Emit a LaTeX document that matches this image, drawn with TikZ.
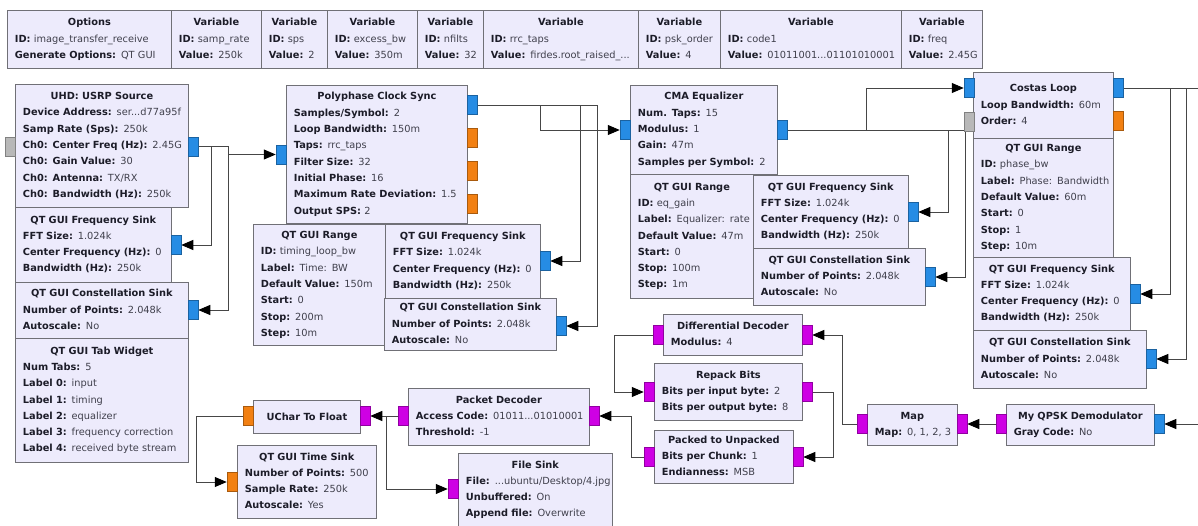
\documentclass[tikz,border=0pt]{standalone}
\usepackage{fontspec}
\setmainfont{DejaVu Sans}
\usetikzlibrary{arrows.meta,calc}
\pgfdeclarelayer{bg}
\pgfdeclarelayer{wires}
\pgfsetlayers{bg,wires,main}

\definecolor{blkfill}{RGB}{237,235,252}
\definecolor{blkline}{RGB}{112,112,118}
\definecolor{keytext}{RGB}{28,28,40}
\definecolor{valtext}{RGB}{64,64,76}
\definecolor{pcomplex}{RGB}{38,140,228}
\definecolor{pfloat}{RGB}{242,128,18}
\definecolor{pbyte}{RGB}{206,0,228}
\definecolor{pmsg}{RGB}{184,184,184}
\definecolor{wire}{RGB}{70,70,70}

% block header (centred) and parameter line (bold key, plain value)
\newcommand\hd[1]{\hfill\mbox{\textbf{#1}}\hfill\null}
\newcommand\kv[2]{\mbox{\textbf{#1:} \color{valtext}#2}}

\tikzset{
  blk/.style={rectangle, draw=blkline, fill=blkfill, line width=0.8pt, inner sep=0pt},
  blktext/.style={anchor=center, inner sep=0pt, align=left, text=keytext,
                  font=\fontsize{9.8}{16.3}\selectfont},
  port/.style={rectangle, inner sep=0pt, minimum width=10pt, minimum height=19pt, line width=0.5pt},
  pc/.style={port, fill=pcomplex, draw=pcomplex!70!black},
  pf/.style={port, fill=pfloat, draw=pfloat!70!black},
  pb/.style={port, fill=pbyte, draw=pbyte!70!black},
  pm/.style={port, fill=pmsg, draw=pmsg!70!black},
  conn/.style={draw=wire, line width=0.9pt, -{Triangle[length=12pt,width=10pt,color=black]}},
  link/.style={draw=wire, line width=0.9pt},
}

% \grblock{name}{x0}{y0}{x1}{y1}{lines}
\newcommand\grblock[6]{%
  \pgfmathsetmacro\grw{#4-#2}%
  \pgfmathsetmacro\grh{#5-#3}%
  \pgfmathsetmacro\grtw{#4-#2-15}%
  \node[blk, minimum width=\grw pt, minimum height=\grh pt, anchor=north west] (#1) at (#2,#3) {};
  \node[blktext, text width=\grtw pt] (#1-t) at (#1.center)
    {\rule{0pt}{7.8pt}#6\rule[-2.6pt]{0pt}{0pt}};
}

\begin{document}
\begin{tikzpicture}[x=1pt,y=-1pt]
\useasboundingbox (0,0) rectangle (1198,525);
\begin{pgfonlayer}{bg}
  \fill[white] (0,0) rectangle (1198,525);
\end{pgfonlayer}

% ---- options and variables
\grblock{opts}{7}{10}{171}{68}{\hd{Options}\\\kv{ID}{image\_transfer\_receive}\\\kv{Generate Options}{QT GUI}}
\grblock{vsamp}{171}{10}{261}{68}{\hd{Variable}\\\kv{ID}{samp\_rate}\\\kv{Value}{250k}}
\grblock{vsps}{261}{10}{327}{68}{\hd{Variable}\\\kv{ID}{sps}\\\kv{Value}{2}}
\grblock{vebw}{327}{10}{417}{68}{\hd{Variable}\\\kv{ID}{excess\_bw}\\\kv{Value}{350m}}
\grblock{vnf}{417}{10}{483}{68}{\hd{Variable}\\\kv{ID}{nfilts}\\\kv{Value}{32}}
\grblock{vrrc}{483}{10}{638}{68}{\hd{Variable}\\\kv{ID}{rrc\_taps}\\\kv{Value}{firdes.root\_raised\_...}}
\grblock{vpsk}{638}{10}{720}{68}{\hd{Variable}\\\kv{ID}{psk\_order}\\\kv{Value}{4}}
\grblock{vcode}{720}{10}{901}{68}{\hd{Variable}\\\kv{ID}{code1}\\\kv{Value}{01011001...01101010001}}
\grblock{vfreq}{901}{10}{982}{68}{\hd{Variable}\\\kv{ID}{freq}\\\kv{Value}{2.45G}}

% ---- source column
\grblock{usrp}{15}{84}{188}{207}{\hd{UHD: USRP Source}\\\kv{Device Address}{ser...d77a95f}\\\kv{Samp Rate (Sps)}{250k}\\\kv{Ch0: Center Freq (Hz)}{2.45G}\\\kv{Ch0: Gain Value}{30}\\\kv{Ch0: Antenna}{TX/RX}\\\kv{Ch0: Bandwidth (Hz)}{250k}}
\grblock{fsa}{15}{207}{171}{282}{\hd{QT GUI Frequency Sink}\\\kv{FFT Size}{1.024k}\\\kv{Center Frequency (Hz)}{0}\\\kv{Bandwidth (Hz)}{250k}}
\grblock{csa}{15}{282}{188}{338}{\hd{QT GUI Constellation Sink}\\\kv{Number of Points}{2.048k}\\\kv{Autoscale}{No}}
\grblock{tabw}{15}{338}{188}{462}{\hd{QT GUI Tab Widget}\\\kv{Num Tabs}{5}\\\kv{Label 0}{input}\\\kv{Label 1}{timing}\\\kv{Label 2}{equalizer}\\\kv{Label 3}{frequency correction}\\\kv{Label 4}{received byte stream}}

% ---- timing recovery
\grblock{pfb}{286}{85}{467}{223}{\hd{Polyphase Clock Sync}\\\kv{Samples/Symbol}{2}\\\kv{Loop Bandwidth}{150m}\\\kv{Taps}{rrc\_taps}\\\kv{Filter Size}{32}\\\kv{Initial Phase}{16}\\\kv{Maximum Rate Deviation}{1.5}\\\kv{Output SPS}{2}}
\grblock{rnga}{253}{224}{385}{345}{\hd{QT GUI Range}\\\kv{ID}{timing\_loop\_bw}\\\kv{Label}{Time: BW}\\\kv{Default Value}{150m}\\\kv{Start}{0}\\\kv{Stop}{200m}\\\kv{Step}{10m}}
\grblock{fsb}{385}{224}{540}{298}{\hd{QT GUI Frequency Sink}\\\kv{FFT Size}{1.024k}\\\kv{Center Frequency (Hz)}{0}\\\kv{Bandwidth (Hz)}{250k}}
\grblock{csb}{384}{298}{556}{350}{\hd{QT GUI Constellation Sink}\\\kv{Number of Points}{2.048k}\\\kv{Autoscale}{No}}

% ---- equalizer
\grblock{cma}{630}{85}{777}{174}{\hd{CMA Equalizer}\\\kv{Num. Taps}{15}\\\kv{Modulus}{1}\\\kv{Gain}{47m}\\\kv{Samples per Symbol}{2}}
\grblock{rngb}{630}{174}{753}{298}{\hd{QT GUI Range}\\\kv{ID}{eq\_gain}\\\kv{Label}{Equalizer: rate}\\\kv{Default Value}{47m}\\\kv{Start}{0}\\\kv{Stop}{100m}\\\kv{Step}{1m}}
\grblock{fsc}{753}{175}{908}{248}{\hd{QT GUI Frequency Sink}\\\kv{FFT Size}{1.024k}\\\kv{Center Frequency (Hz)}{0}\\\kv{Bandwidth (Hz)}{250k}}
\grblock{csc}{753}{248}{925}{305}{\hd{QT GUI Constellation Sink}\\\kv{Number of Points}{2.048k}\\\kv{Autoscale}{No}}

% ---- carrier recovery
\grblock{costas}{973}{72}{1113}{138}{\hd{Costas Loop}\\\kv{Loop Bandwidth}{60m}\\\kv{Order}{4}}
\grblock{rngc}{973}{138}{1113}{257}{\hd{QT GUI Range}\\\kv{ID}{phase\_bw}\\\kv{Label}{Phase: Bandwidth}\\\kv{Default Value}{60m}\\\kv{Start}{0}\\\kv{Stop}{1}\\\kv{Step}{10m}}
\grblock{fsd}{973}{257}{1130}{330}{\hd{QT GUI Frequency Sink}\\\kv{FFT Size}{1.024k}\\\kv{Center Frequency (Hz)}{0}\\\kv{Bandwidth (Hz)}{250k}}
\grblock{csd}{973}{330}{1146}{388}{\hd{QT GUI Constellation Sink}\\\kv{Number of Points}{2.048k}\\\kv{Autoscale}{No}}

% ---- byte chain
\grblock{dd}{663}{314}{802}{355}{\hd{Differential Decoder}\\\kv{Modulus}{4}}
\grblock{rb}{654}{363}{802}{420}{\hd{Repack Bits}\\\kv{Bits per input byte}{2}\\\kv{Bits per output byte}{8}}
\grblock{ptu}{654}{430}{793}{483}{\hd{Packed to Unpacked}\\\kv{Bits per Chunk}{1}\\\kv{Endianness}{MSB}}
\grblock{map}{867}{404}{957}{445}{\hd{Map}\\\kv{Map}{0, 1, 2, 3}}
\grblock{qpsk}{1006}{404}{1154}{445}{\hd{My QPSK Demodulator}\\\kv{Gray Code}{No}}
\grblock{pd}{408}{388}{589}{445}{\hd{Packet Decoder}\\\kv{Access Code}{01011...01010001}\\\kv{Threshold}{-1}}
\node[blk, minimum width=107pt, minimum height=33pt, anchor=north west, text=keytext,
      font=\fontsize{9.8}{16.3}\selectfont] (u2f) at (253,400) {\textbf{UChar To Float}};
\grblock{ts}{237}{445}{376}{518}{\hd{QT GUI Time Sink}\\\kv{Number of Points}{500}\\\kv{Sample Rate}{250k}\\\kv{Autoscale}{Yes}}
\grblock{fsk}{458}{453}{612}{526}{\hd{File Sink}\\\kv{File}{...ubuntu/Desktop/4.jpg}\\\kv{Unbuffered}{On}\\\kv{Append file}{Overwrite}}

% ---- ports
\node[pm] (usrp-in) at (10,146.5) {};
\node[pc] (usrp-out) at (193,146.5) {};
\node[pc] (fsa-in) at (176,245) {};
\node[pc] (csa-in) at (193,310) {};
\node[pc] (pfb-in) at (281,154.5) {};
\node[pc] (pfb-o0) at (472,105) {};
\node[pf] (pfb-o1) at (472,137.5) {};
\node[pf] (pfb-o2) at (472,171) {};
\node[pf] (pfb-o3) at (472,204) {};
\node[pc] (fsb-in) at (545,261) {};
\node[pc] (csb-in) at (561,326) {};
\node[pc] (cma-in) at (625,130) {};
\node[pc] (cma-out) at (782,130) {};
\node[pc] (fsc-in) at (913,212) {};
\node[pc] (csc-in) at (930,277) {};
\node[pc] (costas-in) at (969,88) {};
\node[pm] (costas-msg) at (969,122) {};
\node[pc] (costas-out) at (1118,88) {};
\node[pf] (costas-err) at (1118,121) {};
\node[pc] (fsd-in) at (1135,294) {};
\node[pc] (csd-in) at (1151,359) {};
\node[pb] (dd-in) at (807,335) {};
\node[pb] (dd-out) at (658,335) {};
\node[pb] (rb-in) at (649,392) {};
\node[pb] (rb-out) at (807,392) {};
\node[pb] (ptu-in) at (798,457) {};
\node[pb] (ptu-out) at (649,457) {};
\node[pb] (map-in) at (962,424) {};
\node[pb] (map-out) at (862,424) {};
\node[pc] (qpsk-in) at (1159,424) {};
\node[pb] (qpsk-out) at (1001,424) {};
\node[pb] (pd-in) at (594,416) {};
\node[pb] (pd-out) at (403,416) {};
\node[pb] (u2f-in) at (365,416) {};
\node[pf] (u2f-out) at (248,416) {};
\node[pf] (ts-in) at (232,482) {};
\node[pb] (fsk-in) at (453,489) {};

\coordinate (offA) at (1198,88);
\coordinate (offB) at (1198,424);

% ---- connections
\begin{pgfonlayer}{wires}
  \draw[conn] (usrp-out.east) -- ++(30,0) |- (pfb-in.west);
  \draw[conn] (usrp-out.east) -- ++(13,0) |- (fsa-in.east);
  \draw[conn] (usrp-out.east) -- ++(30,0) |- (csa-in.east);

  \draw[conn] (pfb-o0.east) -- ++(63,0) |- (cma-in.west);
  \draw[conn] (pfb-o0.east) -- ++(103,0) |- (fsb-in.east);
  \draw[conn] (pfb-o0.east) -- ++(120,0) |- (csb-in.east);

  \draw[conn] (cma-out.east) -- ++(79,0) |- (costas-in.west);
  \draw[conn] (cma-out.east) -- ++(161,0) |- (fsc-in.east);
  \draw[conn] (cma-out.east) -- ++(178,0) |- (csc-in.east);

  \draw[link] (costas-out.east) -- (offA);
  \draw[conn] (costas-out.east) -- ++(47,0) |- (fsd-in.east);
  \draw[conn] (costas-out.east) -- ++(63,0) |- (csd-in.east);

  \draw[conn] (offB) -- (qpsk-in.east);
  \draw[conn] (qpsk-out.west) -- (map-in.east);
  \draw[conn] (map-out.west) -- ++(-14,0) |- (dd-in.east);
  \draw[conn] (dd-out.west) -- ++(-38,0) |- (rb-in.west);
  \draw[conn] (rb-out.east) -- ++(21,0) |- (ptu-in.east);
  \draw[conn] (ptu-out.west) -- ++(-12,0) |- (pd-in.east);
  \draw[conn] (pd-out.west) -- (u2f-in.east);
  \draw[conn] (pd-out.west) -- ++(-11,0) |- (fsk-in.west);
  \draw[conn] (u2f-out.west) -- ++(-46,0) |- (ts-in.west);
\end{pgfonlayer}
\end{tikzpicture}
\end{document}
